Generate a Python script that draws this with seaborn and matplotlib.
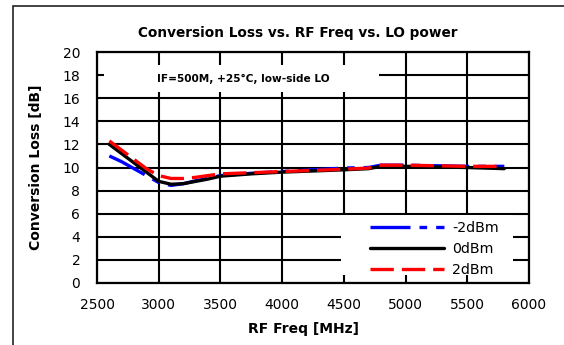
import numpy as np
import pandas as pd
import seaborn as sns
import matplotlib.pyplot as plt
from matplotlib.patches import Rectangle

# data
freq = [2600, 2700, 2800, 2900, 3000, 3100, 3200, 3300, 3400, 3500,
        3750, 4000, 4250, 4500, 4700, 4800, 5000, 5250, 5500, 5800]
lo_m2 = [11.0, 10.5, 9.9, 9.3, 8.7, 8.45, 8.6, 8.85, 9.05, 9.3,
         9.5, 9.65, 9.8, 9.95, 10.0, 10.2, 10.2, 10.15, 10.1, 10.1]
lo_0 = [12.0, 11.2, 10.4, 9.6, 8.8, 8.55, 8.6, 8.8, 9.0, 9.25,
        9.45, 9.6, 9.7, 9.8, 9.9, 10.1, 10.1, 10.05, 10.0, 9.9]
lo_p2 = [12.3, 11.5, 10.7, 9.9, 9.3, 9.05, 9.05, 9.15, 9.3, 9.45,
         9.55, 9.65, 9.75, 9.85, 9.95, 10.2, 10.2, 10.15, 10.1, 10.1]
series_names = ['-2dBm', '0dBm', '2dBm']
x_ticks = [2500, 3000, 3500, 4000, 4500, 5000, 5500, 6000]
y_ticks = list(range(0, 21, 2))

sns.set_style('white')
plt.rcParams['font.family'] = ['DejaVu Sans']
plt.rcParams['text.color'] = 'black'
plt.rcParams['axes.labelcolor'] = 'black'

fig = plt.figure(figsize=(5.64, 3.45), dpi=100)
ax = fig.add_axes([97 / 564, 62 / 345, 432 / 564, 231 / 345])

styles = [
    ('#0000ff', (12, 2.7, 2.3, 2.7)),
    ('#000000', None),
    ('#ff0000', (7, 2.4)),
]
for vals, name, (col, dash) in zip([lo_m2, lo_0, lo_p2], series_names, styles):
    df = pd.DataFrame({'freq': freq, 'cl': vals})
    sns.lineplot(data=df, x='freq', y='cl', color=col, lw=2.4, label=name, ax=ax, zorder=4)
    if dash is not None:
        ax.lines[-1].set_dashes(dash)

ax.set_xlim(2500, 6000)
ax.set_ylim(0, 20)
ax.set_xticks(x_ticks)
ax.set_yticks(y_ticks)
ax.grid(True, color='black', lw=1.5, zorder=1)
ax.set_axisbelow(True)
for s in ax.spines.values():
    s.set_color('black')
    s.set_linewidth(1.6)
ax.tick_params(axis='both', length=0, labelsize=10, colors='black')
ax.tick_params(axis='x', pad=11)
ax.tick_params(axis='y', pad=12)

ax.set_title('Conversion Loss vs. RF Freq vs. LO power', fontsize=9.8,
             fontweight='bold', pad=11, x=0.464)
ax.set_xlabel('RF Freq [MHz]', fontsize=10, fontweight='bold', labelpad=7, x=0.479)
ax.set_ylabel('Conversion Loss [dB]', fontsize=10, fontweight='bold', labelpad=14)

# white box behind the condition note
ax.add_patch(Rectangle((2557, 16.5), 2228, 2.4, facecolor='white',
                       edgecolor='none', zorder=2))
ax.text(3683, 17.65, 'IF=500M, +25\u00b0C, low-side LO', fontsize=7.6,
        fontweight='bold', ha='center', va='center', zorder=3)

# white box behind the legend
ax.add_patch(Rectangle((4477, 0.7), 1393, 5.2, facecolor='white',
                       edgecolor='none', zorder=2))
leg = ax.legend(loc='upper left', bbox_to_anchor=(0.632, 0.27), fontsize=10.2,
                frameon=False, handlelength=5.2, handletextpad=0.6,
                labelspacing=0.5, borderpad=0, borderaxespad=0)
leg.set_zorder(5)

# outer chart border
fig.add_artist(Rectangle((13 / 564, -0.1), 1.0, (345 - 6) / 345 + 0.1,
                         transform=fig.transFigure, fill=False,
                         edgecolor='#222222', lw=1.2, clip_on=False))

plt.savefig('out.png', dpi=100)
